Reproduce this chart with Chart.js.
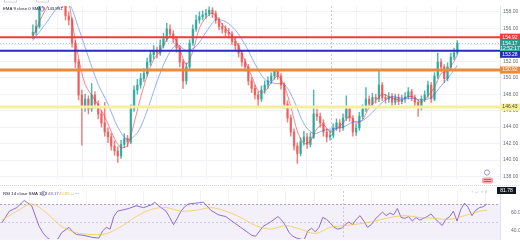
<!DOCTYPE html>
<html>
<head>
<meta charset="utf-8">
<script src="https://cdn.jsdelivr.net/npm/chart.js@4.4.1/dist/chart.umd.min.js"></script>
<style>
html,body{margin:0;padding:0;background:#fff;overflow:hidden;}
#wrap{position:relative;width:520px;height:245px;}
canvas{position:absolute;left:0;}
#main{top:0;}
#rsi{top:185px;}
</style>
</head>
<body>
<div id="wrap">
<canvas id="main" width="520" height="185"></canvas>
<canvas id="rsi" width="520" height="60"></canvas>
</div>
<script>
// candles (open = previous close)
var firstOpen = 155.2;
var closes = [155.5,156.2,158.9,159.6,160.2,159.8,160.4,159.9,159.5,158.8,
157.5,157.0,154.2,151.9,147.9,146.4,147.4,146.2,147.9,146.8,
145.6,144.5,143.4,142.8,141.7,141.1,140.5,141.9,142.6,142.2,
146.2,148.5,149.1,149.9,150.5,151.9,152.8,153.3,153.0,153.9,
154.7,155.9,155.3,154.7,153.6,151.9,149.6,151.3,154.2,155.9,
157.0,157.4,157.6,157.8,158.2,157.8,157.0,156.2,155.9,155.5,
155.3,154.4,153.9,153.0,151.9,151.3,149.6,148.7,147.9,147.4,
148.5,149.1,149.6,150.2,150.8,150.2,149.1,146.8,145.1,143.4,
141.7,140.8,142.2,142.8,141.9,142.8,145.6,145.3,144.5,143.4,
142.8,143.0,143.9,144.5,143.9,145.1,146.2,145.1,143.4,143.9,
145.3,146.2,147.4,146.8,147.6,147.4,149.1,147.6,147.4,147.7,
147.0,147.6,147.1,147.4,147.7,148.3,147.6,147.0,146.4,147.4,
147.9,149.1,147.4,150.2,151.9,151.3,149.9,151.3,152.5,153.0,
154.17];
var highs = [156.4,157.0,159.3,160.0,160.7,160.6,160.9,160.7,160.2,159.8,
159.1,158.0,157.3,154.5,152.2,148.5,148.0,147.8,149.3,148.3,
147.2,146.0,147.0,143.9,143.2,142.3,141.6,142.4,143.2,143.0,
146.7,149.0,149.8,150.5,151.1,152.4,153.3,153.9,153.7,154.6,
155.4,156.6,156.4,155.7,155.0,153.9,152.2,151.8,154.6,156.4,
157.6,158.0,158.1,158.3,158.6,158.5,158.1,157.3,156.6,156.3,
156.0,155.6,154.8,154.2,153.3,152.3,151.6,150.0,149.1,148.3,
149.0,149.6,150.1,150.6,151.0,151.0,150.5,149.4,147.2,145.5,
143.8,142.1,142.7,143.5,143.2,143.3,148.5,146.2,145.7,144.9,
143.8,143.6,144.4,145.0,144.9,145.6,147.8,146.5,145.4,144.4,
145.8,146.7,148.8,147.8,148.1,148.0,150.8,149.4,148.0,148.2,
148.1,148.0,148.0,147.9,148.2,148.8,148.6,147.9,147.3,147.8,
148.4,149.6,149.4,150.6,153.0,152.3,151.6,151.8,153.0,153.6,
154.5];
var lows = [154.7,155.2,156.0,158.6,159.3,159.4,159.5,159.5,159.0,158.5,
157.0,156.4,153.7,151.2,147.3,141.8,145.9,145.6,145.9,146.3,
145.0,144.0,142.9,142.1,141.2,140.6,139.7,140.2,141.5,141.6,
142.0,145.9,148.0,148.7,149.5,150.2,151.5,152.3,152.4,152.7,
153.6,154.4,154.9,154.2,153.1,151.3,148.7,149.2,151.0,153.9,
155.6,156.6,157.0,157.2,157.5,157.3,156.6,155.8,155.4,155.0,
154.8,154.0,153.4,152.5,151.4,150.8,149.1,148.2,147.4,146.6,
147.1,148.1,148.7,149.3,149.8,149.8,148.6,146.3,144.6,142.9,
141.2,139.6,140.5,141.8,141.4,141.6,142.6,144.8,144.0,142.9,
142.2,142.4,142.7,143.6,143.4,143.6,144.8,144.7,142.9,143.0,
143.6,145.0,145.9,146.3,146.4,146.9,147.1,147.2,146.9,147.0,
146.6,146.7,146.7,146.8,147.0,147.4,147.2,146.6,145.3,146.1,
147.1,147.6,147.0,147.2,149.9,150.8,149.4,149.6,151.0,152.2,
152.8];

// moving averages [candle, value]
var fastMa = [[0,155.0],[3,157.6],[6,159.4],[9,159.6],[11,158.9],[12,156.8],[14,152.4],[16,149.2],[19,147.3],[21,146.0],[23,144.4],[25,142.6],[27,141.5],[29,141.8],[31,144.5],[33,147.6],[35,150.2],[37,152.2],[39,153.2],[41,154.6],[43,155.0],[45,153.4],[47,151.6],[49,153.2],[51,156.0],[53,157.3],[55,157.8],[57,157.0],[59,156.0],[61,155.1],[63,153.8],[65,152.0],[67,150.2],[69,148.4],[71,148.3],[73,149.4],[75,150.2],[77,149.0],[79,146.5],[81,143.5],[83,142.0],[85,142.3],[87,143.8],[89,144.3],[91,143.4],[93,143.8],[95,144.5],[97,145.3],[99,144.5],[101,144.9],[103,146.4],[105,147.2],[107,148.0],[109,147.7],[111,147.4],[113,147.3],[115,147.7],[117,147.6],[119,147.0],[121,147.8],[123,148.8],[125,150.5],[127,150.8],[129,152.0],[130,152.8]];
var slowMa = [[0,154.5],[4,156.6],[8,158.7],[11,159.0],[14,156.0],[17,152.5],[20,149.2],[23,146.8],[26,144.0],[29,142.5],[32,143.3],[35,146.0],[38,149.5],[41,152.4],[44,154.0],[47,153.3],[50,153.8],[53,155.5],[56,157.0],[59,156.8],[62,155.8],[65,154.0],[68,151.7],[71,149.8],[74,149.3],[77,149.2],[80,147.2],[83,144.4],[86,143.2],[89,143.6],[92,143.8],[95,144.0],[98,144.6],[101,144.8],[104,145.8],[107,147.0],[110,147.7],[113,147.5],[116,147.5],[119,147.3],[122,147.6],[125,149.0],[128,150.4],[130,151.5]];

// RSI and its SMA [candle, value]
var rsiLine = [[0,49],[2,62],[4,66],[6,74],[8,68],[10,45],[11,38],[12,33],[13,30],[14,29],[15,31],[16,38],[18,44],[19,39],[20,36],[22,35],[24,33],[26,32],[27,40],[28,44],[29,42],[30,56],[31,62],[32,63],[34,65],[36,68],[38,66],[40,69],[41,72],[42,68],[44,62],[45,55],[46,47],[47,54],[48,62],[49,67],[50,70],[52,71],[54,72],[55,68],[56,63],[58,58],[60,56],[62,50],[64,44],[66,38],[67,35],[68,34],[70,45],[72,50],[74,56],[75,52],[76,46],[77,38],[78,34],[79,32],[80,31],[81,30],[82,40],[83,43],[84,39],[85,44],[86,55],[87,53],[88,49],[89,44],[90,42],[91,43],[92,47],[93,50],[94,47],[95,53],[96,57],[97,51],[98,44],[99,47],[100,53],[101,57],[102,61],[103,57],[104,60],[105,58],[106,65],[107,55],[108,54],[109,56],[110,51],[111,55],[112,52],[113,54],[114,56],[115,59],[116,54],[117,50],[118,46],[119,53],[120,56],[121,62],[122,51],[123,64],[124,71],[125,66],[126,57],[127,63],[128,66],[129,67],[130,70]];
var rsiSma = [[0,52],[4,62],[8,70],[12,60],[16,45],[20,38],[24,36],[28,37],[32,45],[36,56],[40,64],[44,66],[48,62],[52,63],[56,66],[60,62],[64,55],[68,46],[72,42],[76,46],[80,42],[84,37],[88,44],[92,46],[96,48],[100,51],[104,55],[108,57],[112,55],[116,54],[120,53],[124,57],[128,62],[130,63]];

var priceTicks = [138,140,142,144,146,148,150,152,154,156,158];
var rsiTicks = [40,60];
var levelValues = [154.92, 153.28, 150.92, 146.43];
var levelColors = ['#ef3b3b', '#2a2bbf', '#ec8a3c', '#f6ef9a'];
var levelWidths = [2, 2, 3, 3];
var lastPrice = closes[closes.length - 1];
var countdown = '12:52:17';
var timeGrid = [7.3,14.9,22.5,30.2,37.8,45.5,53.1,60.7,68.4,76.0,83.7,91.3,98.9,106.6,114.2,121.9,129.5];
var sessionBreak = 91.3;

var up = 'rgba(38,166,154,0.8)', down = 'rgba(239,83,80,0.75)';
var FONT = '"Liberation Sans", Arial, sans-serif';

var opens = closes.map(function (c, i) { return i === 0 ? firstOpen : closes[i - 1]; });
var candleColor = closes.map(function (c, i) { return c >= opens[i] ? up : down; });
function toXY(p) { return { x: p[0], y: p[1] }; }

Chart.defaults.font.family = FONT;
Chart.defaults.font.size = 5;

function drawTimeGrid(chart) {
    var ctx = chart.ctx, a = chart.chartArea, x = chart.scales.x;
    ctx.save();
    timeGrid.forEach(function (t) {
        var px = Math.round(x.getPixelForValue(t)) + 0.5;
        ctx.beginPath();
        if (t === sessionBreak) {
            ctx.strokeStyle = '#c9cbd2';
            ctx.setLineDash([2, 2]);
        } else {
            ctx.strokeStyle = '#f0f2f7';
            ctx.setLineDash([]);
        }
        ctx.lineWidth = 1;
        ctx.moveTo(px, a.top);
        ctx.lineTo(px, a.bottom);
        ctx.stroke();
    });
    ctx.restore();
}

function axisBox(ctx, yc, h, bg, fg, lines) {
    ctx.fillStyle = bg;
    ctx.fillRect(500, yc - 3.5, 20, h);
    ctx.fillStyle = fg;
    ctx.textAlign = 'center';
    ctx.textBaseline = 'middle';
    lines.forEach(function (t, k) { ctx.fillText(t, 510, yc + k * 5.5); });
}

var mainDeco = {
    id: 'mainDeco',
    beforeDatasetsDraw: function (chart) { drawTimeGrid(chart); },
    afterDatasetsDraw: function (chart) {
        var ctx = chart.ctx, a = chart.chartArea, y = chart.scales.y;
        ctx.save();
        // current price line
        var py = Math.round(y.getPixelForValue(lastPrice)) + 0.5;
        ctx.strokeStyle = 'rgba(38,166,154,0.45)';
        ctx.setLineDash([1, 2]);
        ctx.lineWidth = 1;
        ctx.beginPath(); ctx.moveTo(a.left, py); ctx.lineTo(a.right, py); ctx.stroke();
        ctx.setLineDash([]);
        levelValues.forEach(function (v, k) {
            var ly = y.getPixelForValue(v);
            ctx.strokeStyle = levelColors[k];
            ctx.lineWidth = levelWidths[k];
            ctx.beginPath(); ctx.moveTo(a.left, ly); ctx.lineTo(a.right, ly); ctx.stroke();
        });
        ctx.restore();
    },
    afterDraw: function (chart) {
        var ctx = chart.ctx, y = chart.scales.y;
        ctx.save();
        ctx.font = '5px ' + FONT;
        var fgs = ['#fff', '#fff', '#fff', '#4a4a2a'];
        var pyLast = y.getPixelForValue(lastPrice);
        var greenBottom = pyLast - 3.5 + 11;
        levelValues.forEach(function (v, k) {
            var ly = y.getPixelForValue(v);
            if (Math.abs(ly - pyLast) < 11 && ly > pyLast) ly = greenBottom + 3.5;
            axisBox(ctx, ly, 7, levelColors[k], fgs[k], [v.toFixed(2)]);
        });
        axisBox(ctx, pyLast, 11, '#22a08f', '#fff', [lastPrice.toFixed(2), countdown]);

        // legend
        ctx.font = '4.3px ' + FONT;
        ctx.textAlign = 'left';
        ctx.textBaseline = 'middle';
        ctx.fillStyle = '#131722';
        ctx.fillText('EMA 9 close 0 SMA 9', 3, 9);
        ctx.strokeStyle = '#8f7cc4';
        ctx.lineWidth = 0.8;
        ctx.beginPath(); ctx.arc(42, 9, 2.2, 0, Math.PI * 2); ctx.stroke();
        ctx.fillStyle = '#131722';
        ctx.fillText('143.991', 47, 9);

        // cut-off buttons at the top
        ctx.strokeStyle = '#c8cad2';
        ctx.lineWidth = 0.8;
        ctx.strokeRect(4.5, -4, 12, 6);
        ctx.strokeRect(36.5, -4, 12, 6);

        // event markers
        ctx.strokeStyle = '#8a7fb8';
        ctx.beginPath(); ctx.arc(487, 172.5, 2.6, 0, Math.PI * 2); ctx.stroke();
        ctx.fillStyle = '#f4a3ad';
        ctx.beginPath();
        ctx.roundRect(482, 177.5, 11, 6, 2);
        ctx.fill();
        ctx.fillStyle = '#e8515f';
        ctx.fillRect(484, 179, 7, 1);
        ctx.fillRect(484, 181, 7, 1);
        ctx.restore();
    }
};

var rsiDeco = {
    id: 'rsiDeco',
    beforeDatasetsDraw: function (chart) {
        var ctx = chart.ctx, a = chart.chartArea, y = chart.scales.y;
        ctx.save();
        var y70 = y.getPixelForValue(70), y30 = y.getPixelForValue(30), y50 = y.getPixelForValue(50);
        ctx.fillStyle = 'rgba(126,87,194,0.09)';
        ctx.fillRect(a.left, y70, a.right - a.left, y30 - y70);
        ctx.restore();
        drawTimeGrid(chart);
        ctx.save();
        ctx.strokeStyle = '#a9a3c6';
        ctx.lineWidth = 1;
        ctx.setLineDash([2, 2]);
        ctx.beginPath(); ctx.moveTo(a.left, Math.round(y70) + 0.5); ctx.lineTo(a.right, Math.round(y70) + 0.5); ctx.stroke();
        ctx.strokeStyle = 'rgba(169,163,198,0.5)';
        ctx.beginPath(); ctx.moveTo(a.left, Math.round(y50) + 0.5); ctx.lineTo(a.right, Math.round(y50) + 0.5); ctx.stroke();
        // pane separator
        ctx.strokeStyle = '#d6d8de';
        ctx.setLineDash([1, 1]);
        ctx.beginPath(); ctx.moveTo(0, 0.5); ctx.lineTo(520, 0.5); ctx.stroke();
        ctx.restore();
    },
    afterDraw: function (chart) {
        var ctx = chart.ctx;
        ctx.save();
        ctx.font = '4.3px ' + FONT;
        ctx.textAlign = 'left';
        ctx.textBaseline = 'middle';
        ctx.fillStyle = '#131722';
        ctx.fillText('RSI 14 close SMA 14 2', 3, 8.5);
        ctx.strokeStyle = '#8f7cc4';
        ctx.lineWidth = 0.8;
        ctx.beginPath(); ctx.arc(43.5, 8.5, 2.2, 0, Math.PI * 2); ctx.stroke();
        ctx.fillStyle = '#7e57c2';
        ctx.fillText('48.17', 48, 8.5);
        ctx.fillStyle = '#f3c33c';
        ctx.fillText('45.89', 59, 8.5);
        ctx.fillStyle = '#9598a1';
        ctx.fillText('\u25A1 \u22EF', 71, 8.5);
        ctx.fillText('\u2191  \u25A1  \u2315  \u2261', 471, 7);
        ctx.font = '5px ' + FONT;
        ctx.fillStyle = '#131722';
        ctx.fillRect(497, 2, 19, 7);
        ctx.fillStyle = '#fff';
        ctx.textAlign = 'center';
        ctx.fillText('81.78', 506.5, 5.5);
        ctx.restore();
    }
};

function yAxis(min, max, ticks) {
    return {
        position: 'right',
        min: min,
        max: max,
        afterBuildTicks: function (s) { s.ticks = ticks.map(function (v) { return { value: v }; }); },
        afterFit: function (s) { s.width = 20; },
        ticks: { color: '#6a6d78', padding: 3, font: { size: 5 }, callback: function (v) { return v.toFixed(2); } },
        grid: { color: '#f0f2f7', drawTicks: false },
        border: { color: '#e0e3eb' }
    };
}

var xAxis = { type: 'linear', display: false, min: -0.5, max: 133.5 };

new Chart(document.getElementById('main').getContext('2d'), {
    type: 'bar',
    data: {
        datasets: [
            { type: 'line', data: fastMa.map(toXY), borderColor: 'rgba(242,54,69,0.6)', borderWidth: 1, pointRadius: 0, tension: 0.3, order: 0 },
            { type: 'line', data: slowMa.map(toXY), borderColor: 'rgba(41,98,255,0.5)', borderWidth: 1, pointRadius: 0, tension: 0.3, order: 0 },
            { data: closes.map(function (c, i) { return { x: i, y: [lows[i], highs[i]] }; }), backgroundColor: candleColor, barThickness: 0.8, grouped: false, order: 2 },
            { data: closes.map(function (c, i) { return { x: i, y: [opens[i], c] }; }), backgroundColor: candleColor, barThickness: 1.7, minBarLength: 1, grouped: false, order: 1 }
        ]
    },
    options: {
        responsive: false,
        animation: false,
        events: [],
        layout: { padding: 0 },
        plugins: { legend: { display: false }, tooltip: { enabled: false } },
        scales: { x: xAxis, y: yAxis(137.7, 158.7, priceTicks) }
    },
    plugins: [mainDeco]
});

var rsiY = yAxis(31, 84.5, rsiTicks);
rsiY.grid = { display: false };
new Chart(document.getElementById('rsi').getContext('2d'), {
    type: 'line',
    data: {
        datasets: [
            { data: rsiSma.map(toXY), borderColor: 'rgba(245,196,60,0.7)', borderWidth: 1, pointRadius: 0, tension: 0.3 },
            { data: rsiLine.map(toXY), borderColor: 'rgba(126,87,194,0.85)', borderWidth: 1, pointRadius: 0, tension: 0 }
        ]
    },
    options: {
        responsive: false,
        animation: false,
        events: [],
        layout: { padding: 0 },
        plugins: { legend: { display: false }, tooltip: { enabled: false } },
        scales: { x: xAxis, y: rsiY }
    },
    plugins: [rsiDeco]
});
</script>
</body>
</html>
